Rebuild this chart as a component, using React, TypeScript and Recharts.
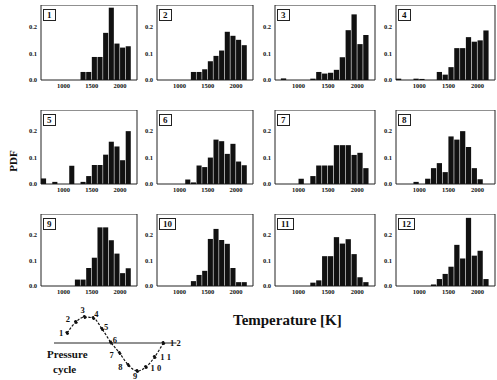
import React from 'react';
import {
  BarChart,
  Bar,
  XAxis,
  YAxis,
  ReferenceArea,
  LineChart,
  Line,
  ReferenceLine,
  LabelList,
} from 'recharts';

// temperature bins, 100 K wide, by left edge
const binStarts = [600, 700, 800, 900, 1000, 1100, 1200, 1300, 1400, 1500, 1600, 1700, 1800, 1900, 2000, 2100];

const pdf1 = [0, 0, 0, 0, 0, 0, 0, 0.03, 0.03, 0.086, 0.086, 0.176, 0.27, 0.136, 0.121, 0.126];
const pdf2 = [0, 0, 0, 0, 0, 0, 0.03, 0.03, 0.04, 0.07, 0.09, 0.11, 0.18, 0.165, 0.15, 0.13];
const pdf3 = [0, 0.006, 0, 0, 0, 0, 0.005, 0.03, 0.024, 0.027, 0.038, 0.085, 0.186, 0.245, 0.134, 0.168];
const pdf4 = [0.005, 0, 0, 0.005, 0.004, 0, 0, 0.03, 0.02, 0.048, 0.119, 0.119, 0.16, 0.143, 0.148, 0.185];
const pdf5 = [0.021, 0, 0.008, 0, 0, 0.069, 0, 0.008, 0.03, 0.072, 0.072, 0.111, 0.16, 0.142, 0.09, 0.2];
const pdf6 = [0, 0, 0, 0, 0, 0.017, 0.006, 0.07, 0.064, 0.1, 0.168, 0.162, 0.114, 0.152, 0.085, 0.071];
const pdf7 = [0, 0, 0, 0, 0.02, 0, 0.03, 0.07, 0.07, 0.07, 0.147, 0.147, 0.147, 0.11, 0.118, 0.06];
const pdf8 = [0, 0, 0, 0.008, 0, 0.02, 0.06, 0.079, 0.045, 0.18, 0.168, 0.2, 0.14, 0.06, 0.018, 0];
const pdf9 = [0, 0, 0, 0, 0, 0, 0.025, 0.025, 0.07, 0.11, 0.228, 0.228, 0.178, 0.126, 0.05, 0.069];
const pdf10 = [0, 0, 0, 0, 0, 0, 0.019, 0.043, 0.059, 0.183, 0.222, 0.179, 0.164, 0.07, 0.015, 0.015];
const pdf11 = [0, 0, 0, 0, 0, 0, 0.013, 0.022, 0.116, 0.116, 0.19, 0.165, 0.182, 0.124, 0.034, 0.015];
const pdf12 = [0, 0, 0, 0, 0, 0, 0.006, 0.027, 0.047, 0.075, 0.16, 0.107, 0.265, 0.118, 0.137, 0.027];

const panelSeries = [pdf1, pdf2, pdf3, pdf4, pdf5, pdf6, pdf7, pdf8, pdf9, pdf10, pdf11, pdf12];
const panelLabels = ['1', '2', '3', '4', '5', '6', '7', '8', '9', '10', '11', '12'];

const xTicks = [1000, 1500, 2000];
const yTicks = [0, 0.1, 0.2];

// pressure cycle sketch
const cyclePhase = [1, 2, 3, 4, 5, 6, 7, 8, 9, 10, 11, 12];
const cyclePressure = [0.36, 0.75, 0.93, 0.89, 0.5, 0.02, -0.36, -0.79, -1, -0.86, -0.5, 0];
const cycleLabels = ['1', '2', '3', '4', '5', '6', '7', '8', '9', '1 0', '1 1', '1 2'];

const T_MIN = 600;
const T_MAX = 2300;
const Y_MAX = 0.28;

const colLeft = [41, 157, 275, 396];
const colWidth = [96, 96, 100, 99];
const rowTop = [5, 110, 214];
const rowHeight = [75, 74, 72];

const serif = '"Liberation Serif", "DejaVu Serif", serif';
const tickStyle = { fontSize: 6.5, fontWeight: 700, fill: '#111', fontFamily: serif };

const labelOffsets: [number, number][] = [
  [-6, 0], [-8, -3], [-2, -7], [3, -4], [4, -2], [4, -2],
  [-8, 2], [-8, 2], [-2, 4.5], [10, 1], [11, 0], [12, 0],
];

const Panel = ({ idx }: { idx: number }) => {
  const col = idx % 4;
  const row = Math.floor(idx / 4);
  const plotW = colWidth[col];
  const plotH = rowHeight[row];
  const yAxisW = 22;
  const data = binStarts.map((b, i) => ({ t: b + 50, v: panelSeries[idx][i] }));
  const barSize = (plotW * 100) / (T_MAX - T_MIN);

  return (
    <div style={{ position: 'absolute', left: colLeft[col] - yAxisW, top: rowTop[row] }}>
      <BarChart
        width={plotW + yAxisW + 2}
        height={plotH + 12}
        data={data}
        margin={{ top: 0, right: 2, bottom: 0, left: 0 }}
        barGap={0}
        barCategoryGap={0}
      >
        <XAxis
          dataKey="t"
          type="number"
          domain={[T_MIN, T_MAX]}
          ticks={xTicks}
          allowDataOverflow
          axisLine={false}
          tickLine={false}
          tickSize={2}
          tickMargin={1}
          height={12}
          tick={tickStyle}
          interval={0}
        />
        <YAxis
          type="number"
          domain={[0, Y_MAX]}
          ticks={yTicks}
          allowDataOverflow
          axisLine={false}
          tickLine={false}
          tickSize={2}
          tickMargin={2}
          width={yAxisW}
          tick={tickStyle}
          tickFormatter={(v: number) => v.toFixed(1)}
          interval={0}
        />
        <Bar dataKey="v" fill="#111" barSize={barSize} isAnimationActive={false} />
        <ReferenceArea x1={T_MIN} x2={T_MAX} y1={0} y2={Y_MAX} fill="none" stroke="#222" strokeWidth={1} />
      </BarChart>
      <div
        style={{
          position: 'absolute',
          left: yAxisW + 2,
          top: 4,
          height: 10,
          padding: '0 3px',
          border: '1.5px solid #222',
          background: '#fff',
          fontFamily: serif,
          fontWeight: 700,
          fontSize: 9,
          lineHeight: '10px',
          color: '#111',
        }}
      >
        {panelLabels[idx]}
      </div>
    </div>
  );
};

const CycleLabel = (props: any) => {
  const { x, y, index, value } = props;
  const [dx, dy] = labelOffsets[index];
  return (
    <text
      x={x + dx}
      y={y + dy}
      textAnchor="middle"
      dominantBaseline="central"
      fontSize={8.5}
      fontWeight={700}
      fontFamily={serif}
      fill="#111"
    >
      {value}
    </text>
  );
};

export default function App() {
  const cycleData = cyclePhase.map((p, i) => ({ phase: p, pressure: cyclePressure[i], label: cycleLabels[i] }));

  return (
    <div style={{ position: 'relative', width: 497, height: 380, background: '#fff', fontFamily: serif }}>
      <style>{'body{margin:0}'}</style>
      {panelSeries.map((_, i) => (
        <Panel key={i} idx={i} />
      ))}

      <div
        style={{
          position: 'absolute',
          left: -2,
          top: 155,
          width: 30,
          textAlign: 'center',
          transform: 'rotate(-90deg)',
          fontSize: 11,
          fontWeight: 700,
          color: '#111',
          lineHeight: '12px',
        }}
      >
        PDF
      </div>

      <div style={{ position: 'absolute', left: 233, top: 313, fontSize: 15, fontWeight: 700, color: '#111', lineHeight: '15px' }}>
        Temperature [K]
      </div>

      <div style={{ position: 'absolute', left: 47, top: 348, fontSize: 11, fontWeight: 700, color: '#111', lineHeight: '12px' }}>
        Pressure
      </div>
      <div style={{ position: 'absolute', left: 53, top: 363, fontSize: 11, fontWeight: 700, color: '#111', lineHeight: '12px' }}>
        cycle
      </div>

      <div style={{ position: 'absolute', left: 41.5, top: 303 }}>
        <LineChart width={150.5} height={77} data={cycleData} margin={{ top: 12, right: 16, bottom: 9, left: 12 }}>
          <XAxis dataKey="phase" type="number" domain={[-0.5, 13.5]} hide />
          <YAxis type="number" domain={[-1, 1]} hide />
          <ReferenceLine y={0} stroke="#222" strokeWidth={1} />
          <Line
            dataKey="pressure"
            type="monotone"
            stroke="#111"
            strokeWidth={1.2}
            strokeDasharray="2.5 1.5"
            dot={{ r: 1.4, fill: '#111', stroke: '#111' }}
            isAnimationActive={false}
          >
            <LabelList dataKey="label" content={<CycleLabel />} />
          </Line>
        </LineChart>
      </div>
    </div>
  );
}
